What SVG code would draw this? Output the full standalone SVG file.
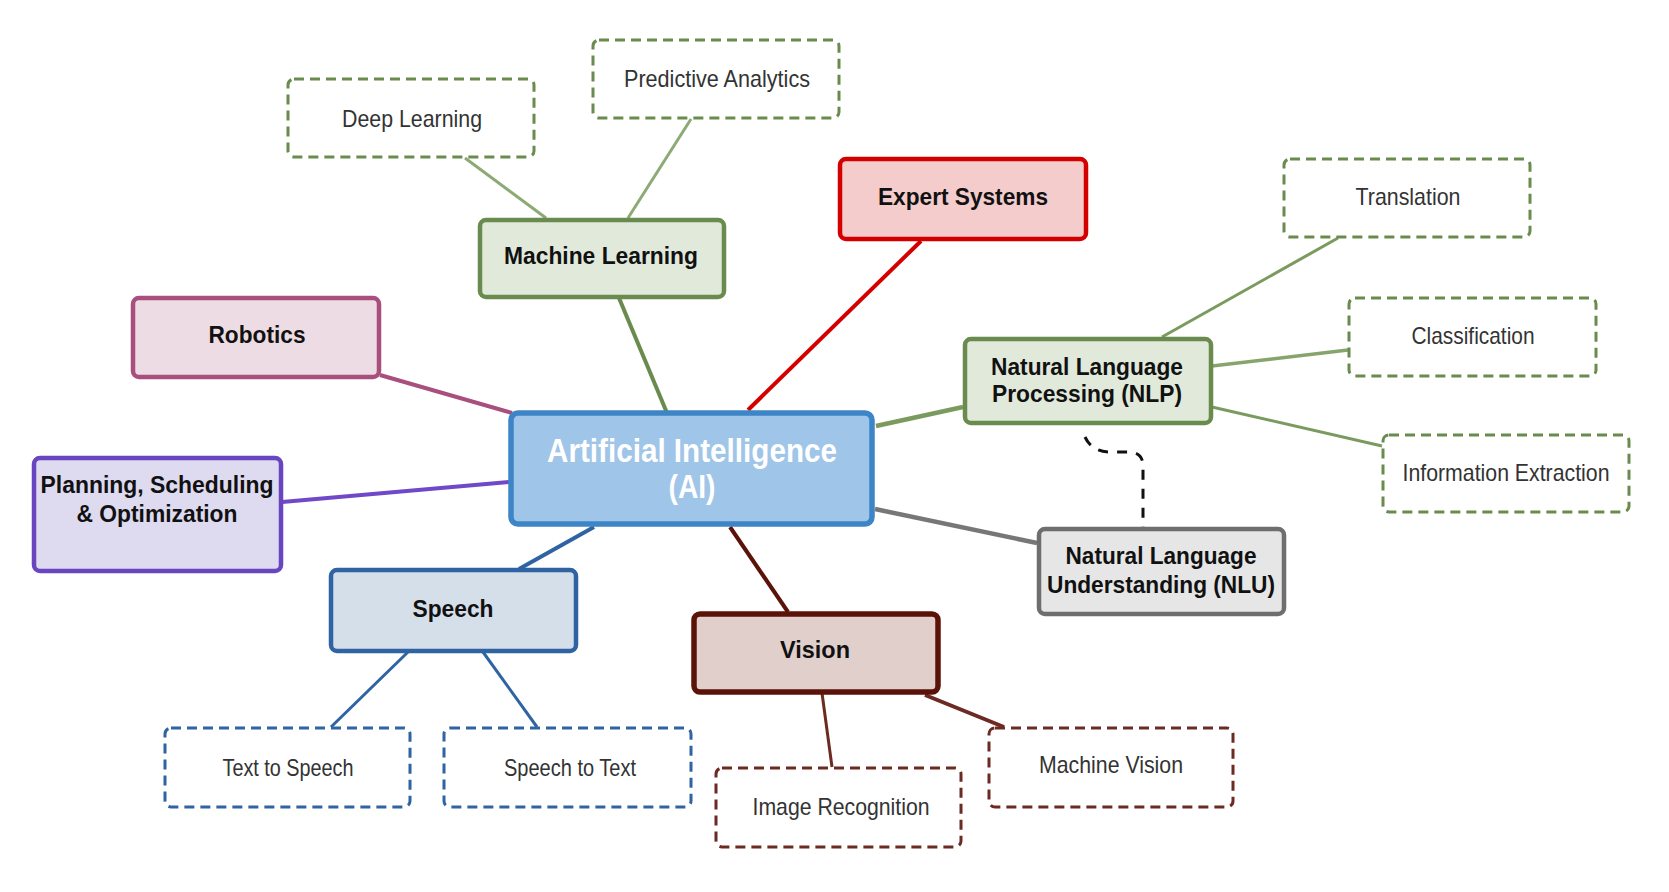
<svg xmlns="http://www.w3.org/2000/svg" width="1669" height="892" viewBox="0 0 1669 892">
<style>
.b{font-family:"Liberation Sans",Arial,sans-serif;font-weight:bold;font-size:24px;fill:#111;text-anchor:middle}
.l{font-family:"Liberation Sans",Arial,sans-serif;font-size:24px;fill:#333;text-anchor:middle}
.ai{font-family:"Liberation Sans",Arial,sans-serif;font-weight:bold;font-size:34px;fill:#fff;text-anchor:middle}
.main{stroke-width:4.5}
.leaf{fill:#fff;stroke-width:3;stroke-dasharray:10 6}
.c{fill:none;stroke-linecap:butt}
</style>
<rect width="1669" height="892" fill="#fff"/>
<g id="connectors" class="c">
<line x1="380" y1="375" x2="512" y2="413" stroke="#A94F7D" stroke-width="4"/>
<line x1="282" y1="502" x2="509" y2="482" stroke="#7048C8" stroke-width="4"/>
<line x1="519" y1="569" x2="594" y2="527" stroke="#2F63A2" stroke-width="4"/>
<line x1="788" y1="612" x2="730" y2="527" stroke="#5B1209" stroke-width="4"/>
<line x1="1037" y1="543" x2="875" y2="509" stroke="#777777" stroke-width="4.5"/>
<line x1="963" y1="407" x2="876" y2="426" stroke="#7A9A5E" stroke-width="4.5"/>
<line x1="921" y1="241" x2="748" y2="410" stroke="#D40000" stroke-width="4"/>
<line x1="619" y1="298" x2="667" y2="413" stroke="#6A8B4E" stroke-width="4"/>
<line x1="465" y1="158" x2="546" y2="218" stroke="#8CAA74" stroke-width="3"/>
<line x1="691" y1="119" x2="628" y2="218" stroke="#8CAA74" stroke-width="3"/>
<line x1="1162" y1="337" x2="1338" y2="238" stroke="#7A9A5E" stroke-width="3"/>
<line x1="1212" y1="366" x2="1348" y2="350" stroke="#86A46C" stroke-width="3.5"/>
<line x1="1212" y1="407" x2="1382" y2="446" stroke="#7A9A5E" stroke-width="3"/>
<line x1="408" y1="652" x2="331" y2="727" stroke="#2F63A2" stroke-width="3"/>
<line x1="483" y1="652" x2="537" y2="727" stroke="#2F63A2" stroke-width="3"/>
<line x1="822" y1="693" x2="832" y2="767" stroke="#6B2A22" stroke-width="3"/>
<line x1="925" y1="695" x2="1004" y2="727" stroke="#6B2A22" stroke-width="4"/>
<path d="M1085,437 Q1092,452 1110,452 L1128,452 Q1143,452 1143,466 L1143,527" stroke="#111" stroke-width="3" stroke-dasharray="10 9"/>
</g>
<g id="ai">
<rect x="511" y="413" width="361" height="111" rx="7" fill="#9FC5E8" stroke="#3D85C6" stroke-width="5.5"/>
<text class="ai" x="692" y="462" textLength="290" lengthAdjust="spacingAndGlyphs">Artificial Intelligence</text>
<text class="ai" x="692" y="498" textLength="47" lengthAdjust="spacingAndGlyphs">(AI)</text>
</g>
<g id="machine-learning">
<rect x="480" y="220" width="244" height="77" rx="6" fill="#E1E9DB" stroke="#6A8B4E" class="main"/>
<text class="b" x="601" y="264" textLength="194" lengthAdjust="spacingAndGlyphs">Machine Learning</text>
</g>
<g id="deep-learning">
<rect x="288" y="79" width="246" height="78" rx="6" stroke="#6A8B4E" class="leaf"/>
<text class="l" x="412" y="127" textLength="140" lengthAdjust="spacingAndGlyphs">Deep Learning</text>
</g>
<g id="predictive-analytics">
<rect x="593" y="40" width="246" height="78" rx="6" stroke="#6A8B4E" class="leaf"/>
<text class="l" x="717" y="87" textLength="186" lengthAdjust="spacingAndGlyphs">Predictive Analytics</text>
</g>
<g id="expert-systems">
<rect x="840" y="159" width="246" height="80" rx="6" fill="#F4CCCC" stroke="#D40000" class="main"/>
<text class="b" x="963" y="205" textLength="170" lengthAdjust="spacingAndGlyphs">Expert Systems</text>
</g>
<g id="robotics">
<rect x="133" y="298" width="246" height="79" rx="6" fill="#EEDCE4" stroke="#A94F7D" class="main"/>
<text class="b" x="257" y="343" textLength="97" lengthAdjust="spacingAndGlyphs">Robotics</text>
</g>
<g id="planning">
<rect x="34" y="458" width="247" height="113" rx="6" fill="#DEDAF0" stroke="#6A45C0" class="main"/>
<text class="b" x="157" y="493" textLength="233" lengthAdjust="spacingAndGlyphs">Planning, Scheduling</text>
<text class="b" x="157" y="522" textLength="161" lengthAdjust="spacingAndGlyphs">&amp; Optimization</text>
</g>
<g id="nlp">
<rect x="965" y="339" width="246" height="84" rx="6" fill="#E1E9DB" stroke="#6A8B4E" class="main"/>
<text class="b" x="1087" y="375" textLength="192" lengthAdjust="spacingAndGlyphs">Natural Language</text>
<text class="b" x="1087" y="402" textLength="190" lengthAdjust="spacingAndGlyphs">Processing (NLP)</text>
</g>
<g id="translation">
<rect x="1284" y="159" width="246" height="78" rx="6" stroke="#6A8B4E" class="leaf"/>
<text class="l" x="1408" y="205" textLength="105" lengthAdjust="spacingAndGlyphs">Translation</text>
</g>
<g id="classification">
<rect x="1349" y="298" width="247" height="78" rx="6" stroke="#6A8B4E" class="leaf"/>
<text class="l" x="1473" y="344" textLength="123" lengthAdjust="spacingAndGlyphs">Classification</text>
</g>
<g id="information-extraction">
<rect x="1383" y="435" width="246" height="77" rx="6" stroke="#6A8B4E" class="leaf"/>
<text class="l" x="1506" y="481" textLength="207" lengthAdjust="spacingAndGlyphs">Information Extraction</text>
</g>
<g id="nlu">
<rect x="1039" y="529" width="245" height="85" rx="6" fill="#E6E6E6" stroke="#6E6E6E" class="main"/>
<text class="b" x="1161" y="564" textLength="191" lengthAdjust="spacingAndGlyphs">Natural Language</text>
<text class="b" x="1161" y="593" textLength="228" lengthAdjust="spacingAndGlyphs">Understanding (NLU)</text>
</g>
<g id="speech">
<rect x="331" y="570" width="245" height="81" rx="6" fill="#D5DFEA" stroke="#2F63A2" class="main"/>
<text class="b" x="453" y="617" textLength="81" lengthAdjust="spacingAndGlyphs">Speech</text>
</g>
<g id="text-to-speech">
<rect x="165" y="728" width="245" height="79" rx="6" stroke="#2F63A2" class="leaf"/>
<text class="l" x="288" y="776" textLength="131" lengthAdjust="spacingAndGlyphs">Text to Speech</text>
</g>
<g id="speech-to-text">
<rect x="444" y="728" width="247" height="79" rx="6" stroke="#2F63A2" class="leaf"/>
<text class="l" x="570" y="776" textLength="132" lengthAdjust="spacingAndGlyphs">Speech to Text</text>
</g>
<g id="vision">
<rect x="694" y="614" width="244" height="78" rx="6" fill="#E1CFCC" stroke="#5B1209" stroke-width="5.5"/>
<text class="b" x="815" y="658" textLength="70" lengthAdjust="spacingAndGlyphs">Vision</text>
</g>
<g id="image-recognition">
<rect x="716" y="768" width="245" height="79" rx="6" stroke="#6B2A22" class="leaf"/>
<text class="l" x="841" y="815" textLength="177" lengthAdjust="spacingAndGlyphs">Image Recognition</text>
</g>
<g id="machine-vision">
<rect x="989" y="728" width="244" height="79" rx="6" stroke="#6B2A22" class="leaf"/>
<text class="l" x="1111" y="773" textLength="144" lengthAdjust="spacingAndGlyphs">Machine Vision</text>
</g>
</svg>
